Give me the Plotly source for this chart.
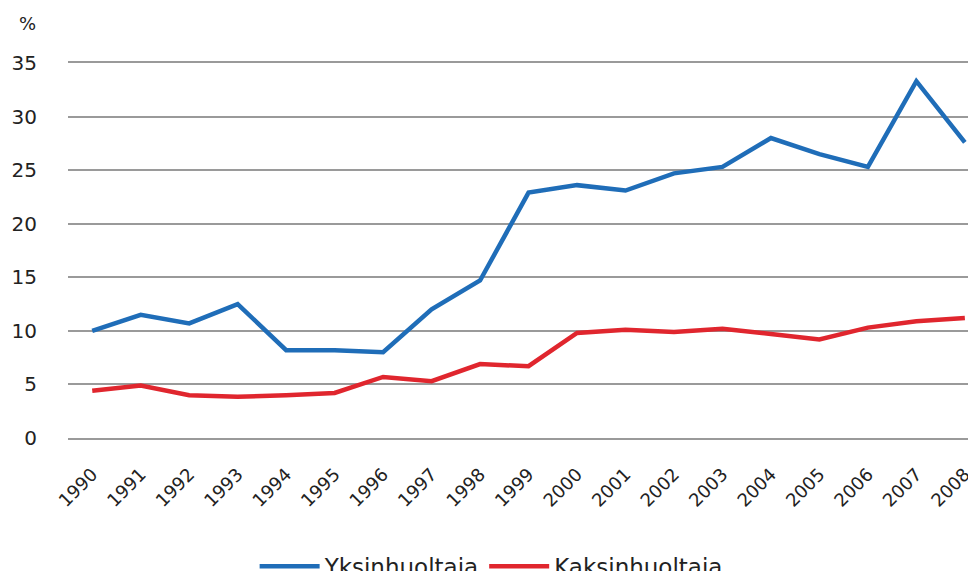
import plotly.graph_objects as go

years = [str(y) for y in range(1990, 2009)]
yksinhuoltaja = [10.0, 11.5, 10.7, 12.5, 8.2, 8.2, 8.0, 12.0, 14.7, 22.9, 23.6, 23.1,
                 24.7, 25.3, 28.0, 26.5, 25.3, 33.3, 27.6]
kaksinhuoltaja = [4.4, 4.9, 4.0, 3.85, 4.0, 4.2, 5.7, 5.3, 6.9, 6.7, 9.8, 10.1,
                  9.9, 10.2, 9.7, 9.2, 10.3, 10.9, 11.2]
y_ticks = [0, 5, 10, 15, 20, 25, 30, 35]

fig = go.Figure()
fig.add_trace(go.Scatter(x=years, y=yksinhuoltaja, mode="lines", name="Yksinhuoltaja",
                         line=dict(color="#1f6db8", width=4.5)))
fig.add_trace(go.Scatter(x=years, y=kaksinhuoltaja, mode="lines", name="Kaksinhuoltaja",
                         line=dict(color="#e0262e", width=4.5)))

font = "DejaVu Sans, Verdana, sans-serif"
grid = "#9a9a9a"
# page body has an 8px margin, so the figure is sized/offset to compensate
fig.update_layout(
    width=968, height=563,
    margin=dict(l=60, r=0, t=55, b=133, autoexpand=False),
    paper_bgcolor="white", plot_bgcolor="white",
    font=dict(family=font, size=18, color="#222"),
    xaxis=dict(type="category", range=[-0.5, 18.23], tickangle=-45, automargin=False,
               showgrid=False, showline=True, linecolor=grid, linewidth=1.5, mirror=True,
               zeroline=False, ticks="", tickfont=dict(size=18), ticklabelstandoff=17),
    yaxis=dict(range=[0, 35], tickvals=y_ticks, showgrid=True, automargin=False,
               gridcolor=grid, gridwidth=1.5, zeroline=False,
               showline=False, ticks="", ticklabelstandoff=30,
               tickfont=dict(size=20)),
    legend=dict(orientation="h", x=0.466, xanchor="center", y=-0.285, yanchor="top",
                font=dict(size=23), itemwidth=60, bgcolor="rgba(0,0,0,0)"),
    showlegend=True,
)
fig.add_annotation(text="%", xref="paper", yref="paper", x=-0.045, y=1.104,
                   yanchor="middle", xanchor="center",
                   showarrow=False, font=dict(size=18, family=font))
fig.write_html("out.html")
